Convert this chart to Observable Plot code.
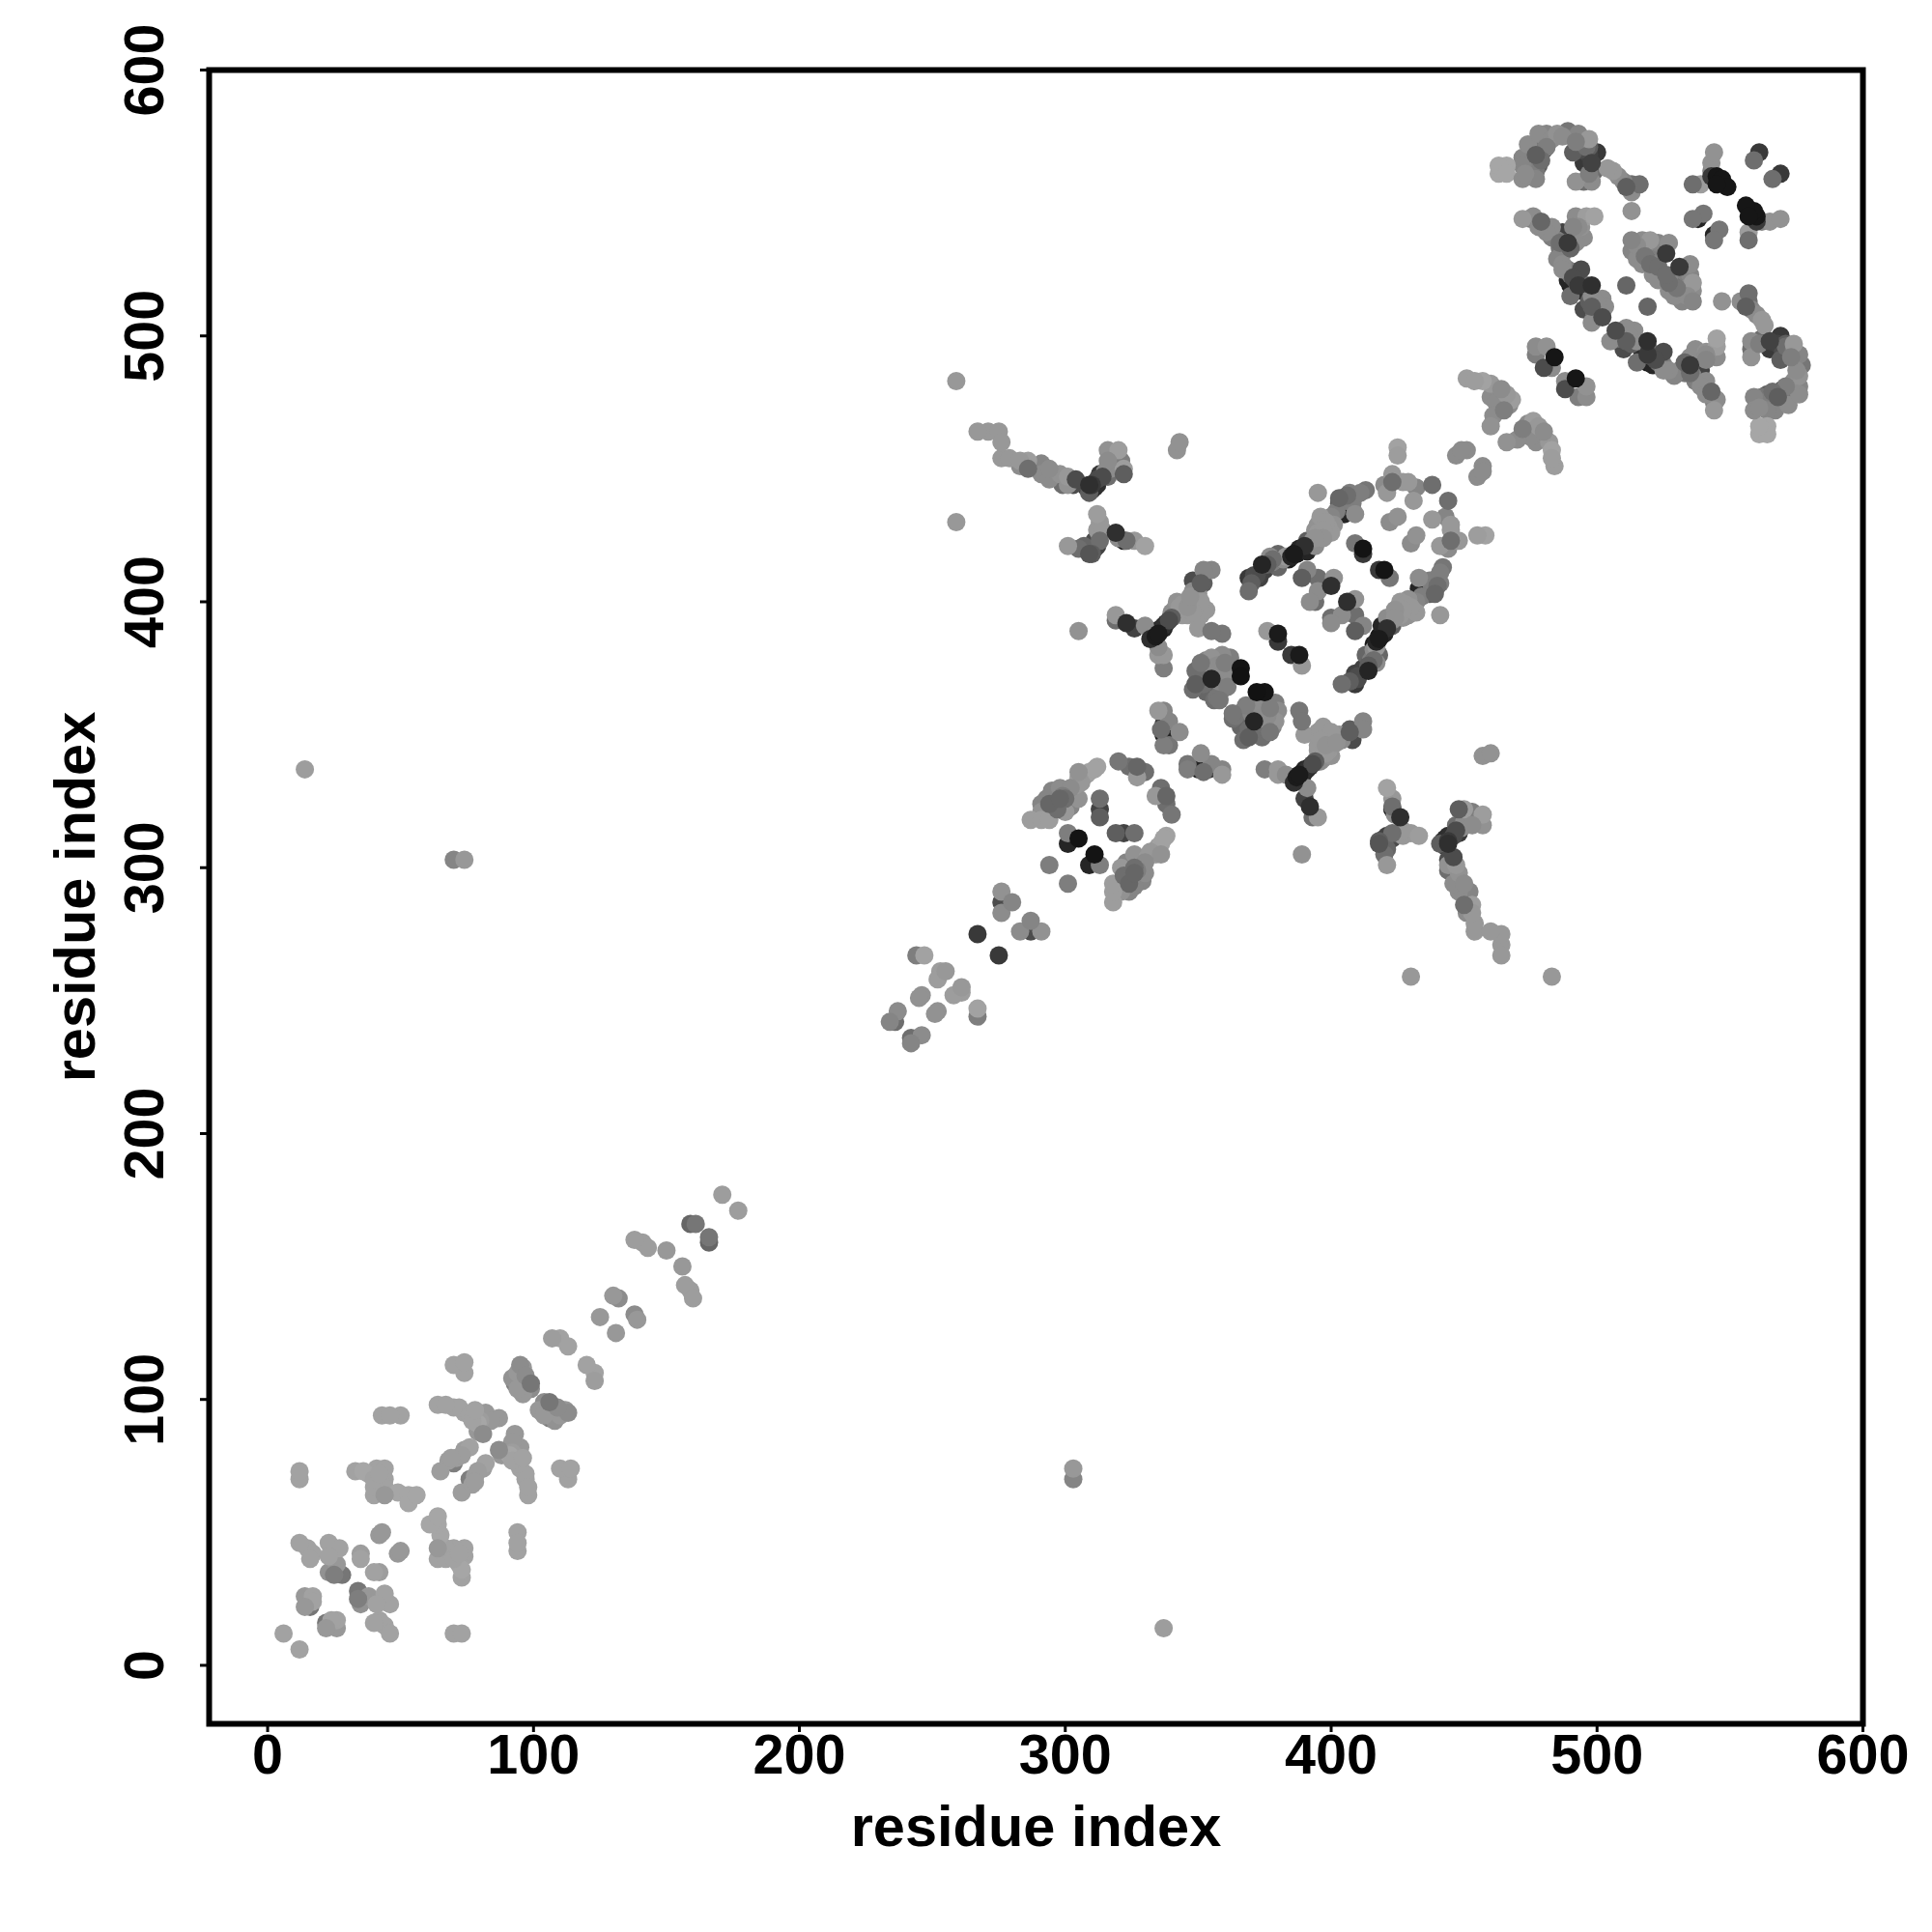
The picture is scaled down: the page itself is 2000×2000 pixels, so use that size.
<!DOCTYPE html>
<html>
<head>
<meta charset="utf-8">
<style>html,body{margin:0;padding:0;background:#fff}svg{display:block}</style>
<script src="https://cdn.jsdelivr.net/npm/d3@7"></script>
<script src="https://cdn.jsdelivr.net/npm/@observablehq/plot@0.6"></script>
</head>
<body>
<script>
const axisTicks = [0, 100, 200, 300, 400, 500, 600];
const axisTitle = "residue index";

const residueI = [
  6,
  14,17,14,16,17,
  12,15,17,16,23,27,23,23,26,25,28,35,35,42,43,
  12,12,33,36,41,44,40,44,40,44,49,53,56,53,
  70,74,74,43,46,50,
  64,67,70,74,79,82,87,81,
  65,70,73,76,68,
  95,94,97,99,96,93,
  107,110,113,
  125,130,132,138,141,143,150,159,161,171,
  14,70,74,259,259,343,342,
  244,247,267,253,255,252,246,245,237,236,234,
  276,276,280,276,294,301,305,301,313,313,313,
  305,305,312,311,320,324,327,330,327,302,298,295,300,305,297,294,291,300,297,291,293,294,287,291,
  267,271,275,276,276,279,283,283,286,286,291,291,294,294,298,301,299,301,304,303,310,310,312,313,309,316,320,316,317,321,322,322,316,
  301,305,310,310,311,313,312,313,312,319,320,322,323,326,330,
  305,319,319,323,326,330,334,336,338,340,342,346,351,351,344,355,359,350,351,348,335,337,337,
  355,352,352,348,346,351,340,335,
  362,359,355,352,349,349,348,352,356,359,356,355,366,366,360,357,
  337,335,339,337,343,339,337,336,337,
  376,380,380,
  425,425,423,420,423,421,427,429,432,431,438,
  413,409,406,403,408,409,405,400,396,395,400,396,392,389,386,391,394,397,380,377,374,371,369,369,380,373,383,
  395,
  409,412,412,401,400,395,391,389,395,394,392,425,422,
  449,451,447,
  463,466,463,466,
  472,472,472,477,477,477,474,480,481,478,481,485,489,493,497,491,494,492,497,500,
  492,495,498,497,499,495,504,506,508,511,510,513,516,513,513,
  544,543,543,536,539,545,547,549,545,543,561,559,536,540,538,
  513,513,517,520,523,527,526,520,517,520,521,515,511,
  472,475,479,483,487,486,483,487,490,492,496,499,495,492,491,490,481,
  487,487,489,494,490,492,498,494,490,498,502,503,502,498,495,498,499,
  477,481,477,484,480,483,
  451,454,457,460,464,460,465,468,463,460,465,
  40,44,42,38,72,77,79,76,78,80,84,69,71,74,96,92,94,97,99,
  303,299,296,304,306,293,302,298,309,308,
  332,333,334,335,337,337,339,340,341,343,344,346,348,349,353,347,350,
  384,385,387,388,390,391,393,394,395,398,398,399,401,397,394,402,403,405,407,411,372,375,376,378,370,378,382,
  350,351,353,354,357,358,362,361,353,354,358,355,
  308,309,311,312,314,315,307,309,311,312,313,314,
  475,479,479,483,487,478,476,473,494,496,498,497,
  476,478,485,488,489,485,486,493,494,490,491,489,491,493,496,497,500,501,
  516,518,522,524,515,518,522,523,463,462,466,467,461
];
const residueJ = [
  12,
  26,26,22,22,24,
  46,44,42,40,46,44,41,35,38,34,34,42,40,49,50,
  73,70,73,73,74,74,70,70,64,64,65,64,64,61,
  113,114,110,94,94,94,
  98,98,97,95,91,95,93,87,
  73,76,79,82,77,
  113,110,106,106,102,106,
  123,123,120,
  131,139,138,160,159,157,156,166,166,177,
  337,303,303,430,483,460,457,
  267,267,275,261,261,258,252,251,246,242,242,
  291,287,287,283,301,313,311,309,326,322,319,
  336,334,338,337,340,338,338,336,334,330,330,329,326,326,324,324,324,321,322,321,321,318,318,318,
  464,464,464,460,454,454,453,451,453,450,452,448,450,446,448,447,444,444,446,444,442,444,446,448,441,457,457,453,450,453,448,450,447,
  421,420,420,418,423,425,433,430,427,426,424,423,423,423,421,
  389,395,393,392,390,391,387,390,392,394,400,400,400,395,395,389,388,390,407,404,380,380,375,
  412,412,407,408,398,396,396,383,
  379,380,379,375,374,369,367,369,373,367,363,371,375,372,377,364,
  359,359,355,354,351,346,350,352,346,
  389,388,385,
  458,455,448,444,445,441,445,445,443,438,444,
  442,440,440,437,437,433,433,432,432,429,426,425,423,420,418,419,421,424,418,417,414,410,409,404,413,409,417,
  441,
  422,420,418,409,406,409,412,409,404,400,400,432,430,
  457,457,455,
  564,564,561,561,
  567,564,559,559,562,568,572,570,571,576,576,576,577,576,574,569,570,573,568,569,
  558,558,558,561,562,565,563,562,560,556,558,557,557,554,547,
  569,565,562,557,557,560,559,556,557,560,569,566,544,546,544,
  536,532,536,536,535,535,531,532,527,527,523,529,519,
  544,544,543,541,539,535,537,531,533,545,545,545,537,535,541,537,539,
  525,527,525,525,519,521,519,517,515,515,514,511,507,505,510,511,508,
  496,496,493,492,488,488,
  484,483,483,482,480,477,475,476,473,466,472,
  67,67,72,72,97,92,88,94,96,92,92,78,78,81,112,108,104,109,104,
  328,327,327,331,332,326,323,326,336,335,
  386,388,389,388,390,391,393,395,397,398,399,395,396,398,397,402,403,
  416,417,418,420,421,423,423,424,426,427,430,428,429,427,427,434,439,438,441,441,410,412,414,415,407,416,416,
  372,377,378,374,376,370,372,368,366,367,363,367,
  443,444,443,444,447,449,421,418,420,421,423,427,
  563,566,572,574,575,564,570,561,574,571,565,571,
  545,541,536,535,535,529,533,541,541,523,522,521,517,519,519,513,512,509,
  533,530,531,533,534,534,527,526,478,475,478,474,470
];
const contactShade = [
  .1,
  .2,.1,.2,.45,.1,
  .1,.1,.1,.1,.1,.1,.1,.25,.2,.4,.45,.15,.1,.2,.2,
  .1,.1,.1,.05,.1,.1,.1,.1,.1,.2,.05,.05,.05,.05,
  .1,.1,.1,.1,.1,.1,
  .1,.1,.1,.1,.05,.2,.2,.3,
  .15,.4,.15,.1,.15,
  .3,.2,.5,.45,.2,.4,
  .15,.1,.1,
  .2,.2,.3,.15,.15,.15,.2,.55,.45,.15,
  .15,.35,.2,.2,.2,.25,.25,
  .4,.1,.8,.15,.2,.15,.25,.25,.3,.5,.35,
  .25,.7,.35,.3,.4,.4,.98,.9,.5,.75,.6,
  .25,.15,.1,.1,.45,.5,.55,.5,.2,.3,.3,.35,.5,.25,.65,.55,.35,.2,.5,.25,.7,.15,.15,.15,
  .2,.2,.2,.2,.2,.2,.2,.3,.15,.5,.35,.3,.3,.3,.25,.2,.5,.25,.7,.7,.85,.8,.7,.8,.6,.25,.15,.3,.3,.4,.6,.15,.5,
  .2,.5,.7,.6,.7,.4,.15,.2,.2,.85,.3,.95,.5,.2,.1,
  .25,.2,.5,.85,.75,.3,.95,.95,.9,.6,.25,.3,.2,.2,.2,.45,.45,.2,.6,.3,.2,.2,.4,
  .35,.35,.6,.7,.25,.2,.3,.3,
  .4,.3,.25,.85,.5,.6,.5,.5,.3,.45,.5,.9,.98,.99,.4,.45,
  .35,.2,.35,.8,.3,.45,.9,.5,.4,
  .2,.95,.8,
  .1,.15,.2,.3,.5,.2,.2,.2,.35,.2,.5,
  .45,.55,.5,.6,.4,.3,.9,.35,.2,.25,.2,.2,.7,.95,.95,.9,.3,.25,.55,.3,.9,.7,.8,.5,.55,.75,.2,
  .2,
  .45,.98,.8,.25,.85,.5,.35,.6,.3,.5,.3,.25,.3,
  .3,.3,.3,
  .05,.05,.05,.05,
  .35,.35,.3,.35,.45,.6,.3,.7,.4,.3,.35,.25,.45,.35,.2,.6,.7,.4,.75,.8,
  .25,.5,.3,.4,.5,.8,.2,.2,.3,.6,.35,.5,.5,.3,.25,
  .25,.25,.35,.5,.15,.97,.97,.97,.97,.8,.8,.5,.45,.45,.9,
  .35,.35,.3,.2,.35,.3,.8,.6,.3,.5,.3,.3,.55,
  .2,.4,.55,.3,.75,.5,.4,.4,.55,.3,.15,.1,.3,.3,.35,.9,.3,
  .3,.3,.4,.7,.95,.5,.85,.85,.5,.3,.3,.3,.7,.3,.7,.6,.5,
  .3,.25,.4,.97,.7,.3,
  .15,.15,.1,.2,.3,.3,.6,.15,.4,.25,.4,
  .1,.1,.1,.1,.1,.1,.2,.1,.1,.15,.2,.15,.15,.15,.2,.25,.2,.3,.3,
  .3,.4,.4,.2,.2,.35,.35,.55,.1,.15,
  .85,.95,.9,.95,.9,.85,.7,.5,.3,.2,.2,.2,.2,.2,.2,.25,.25,
  .95,.9,.95,.9,.85,.6,.3,.25,.2,.2,.2,.2,.25,.2,.25,.4,.55,.45,.4,.4,.7,.75,.6,.4,.6,.5,.3,
  .55,.45,.35,.5,.3,.35,.3,.4,.55,.7,.45,.9,
  .8,.85,.9,.85,.7,.3,.55,.65,.8,.75,.5,.2,
  .4,.5,.45,.3,.3,.6,.5,.3,.4,.5,.75,.6,
  .3,.3,.4,.55,.8,.35,.45,.3,.25,.5,.7,.9,.9,.8,.5,.6,.3,.55,
  .4,.45,.55,.4,.3,.3,.35,.5,.3,.3,.2,.3,.3
];

const contacts = residueI.flatMap((i, k) => [
  {x: i, y: residueJ[k], shade: contactShade[k], order: k},
  {x: residueJ[k], y: i, shade: contactShade[k], order: k}
]);

const tickFont = {fontFamily: "Liberation Sans", fontWeight: 700, fontSize: 57.5, fill: "#000"};
const titleFont = {fontFamily: "Liberation Sans", fontWeight: 700, fontSize: 59.5, fill: "#000"};

const chart = Plot.plot({
  width: 2000, height: 2000,
  marginLeft: 216, marginRight: 72, marginTop: 72, marginBottom: 216,
  style: {background: "#fff", fontFamily: "Liberation Sans"},
  x: {domain: [-22, 600], label: null},
  y: {domain: [-22, 600], label: null},
  color: {type: "pow", exponent: 1.4, domain: [0, 1], range: ["#a8a8a8", "#101010"]},
  marks: [
    Plot.dot(contacts, {x: "x", y: "y", fill: "shade", r: 9.5, stroke: "none",
      sort: d => d.order % 3 === 0 || d.shade >= .97 ? d.shade : -d.shade}),
    Plot.frame({stroke: "#000", strokeWidth: 6}),
    Plot.axisX({ticks: axisTicks, tickSize: 9, strokeWidth: 3, tickPadding: 2, label: null, ...tickFont}),
    Plot.axisY({ticks: axisTicks, tickSize: 9, strokeWidth: 3, tickPadding: 39, label: null, tickRotate: -90, ...tickFont}),
    Plot.text([axisTitle], {frameAnchor: "bottom", lineAnchor: "bottom", dy: 126, ...titleFont}),
    Plot.text([axisTitle], {frameAnchor: "left", textAnchor: "middle", lineAnchor: "bottom", rotate: -90, dx: -119, ...titleFont})
  ]
});
document.body.appendChild(chart);
</script>
</body>
</html>
